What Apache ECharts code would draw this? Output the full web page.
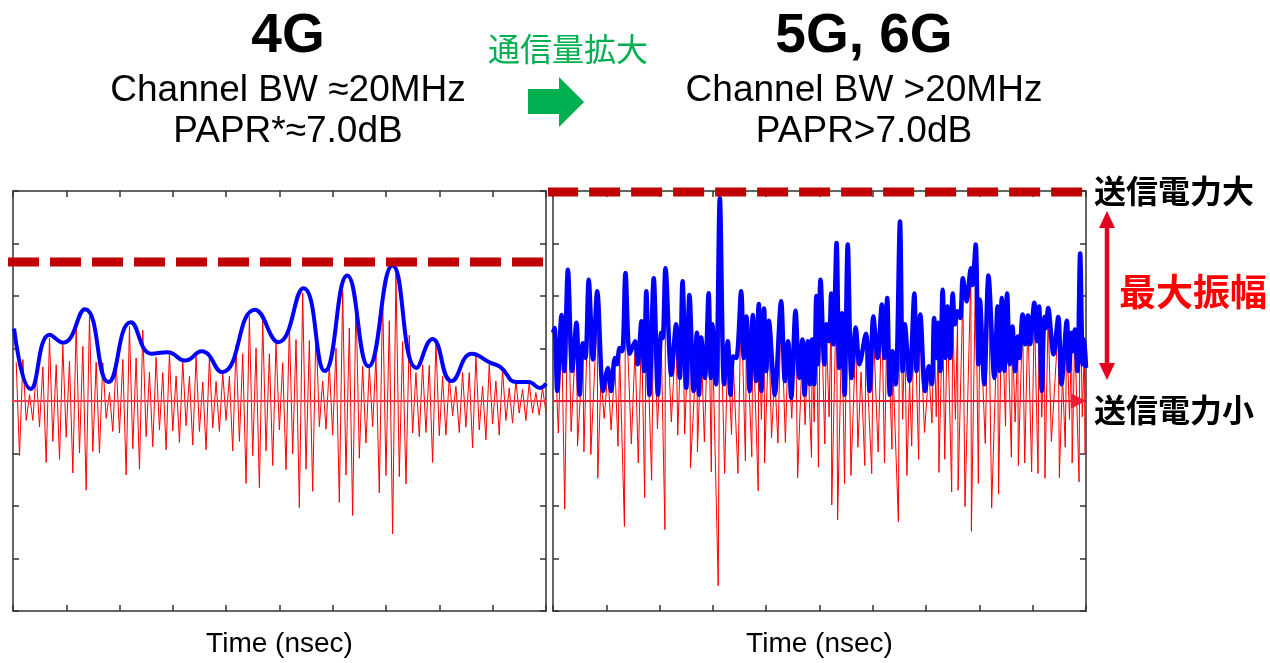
<!DOCTYPE html>
<html>
<head>
<meta charset="utf-8">
<script src="https://cdn.jsdelivr.net/npm/echarts@6/dist/echarts.min.js"></script>
<style>
html,body{margin:0;padding:0;background:#fff;}
#chart{width:1270px;height:663px;}
</style>
</head>
<body>
<div id="chart"></div>
<script>
// ---------- axis settings (data units) ----------
const X_MIN = 0, X_MAX = 10, X_INTERVAL = 1;
const Y_MIN = -4, Y_MAX = 4, Y_INTERVAL = 1;
const X_NAME = 'Time (nsec)';

// ---------- 4G panel (left) ----------
// red carrier: alternating positive peaks / troughs, uniformly sampled
const LEFT_T0 = 0.06, LEFT_DT = 0.0625;
const LEFT_POS = [
 0.74,0.79, 0.12,0.54, 0.65,1.20, 0.69,1.06, 0.76,1.45, 1.04,1.61, 0.74,0.73, 0.16,0.76, 0.79,1.42, 0.82,1.35,
 0.55,0.83, 0.54,0.90, 0.48,0.76, 0.47,0.85, 0.36,0.84, 0.37,0.54, 0.47,1.07, 0.90,1.61, 1.01,1.56, 0.90,1.11,
 0.73,1.44, 1.17,2.06, 1.15,1.45, 0.38,0.69, 1.01,2.10, 1.39,1.98, 0.66,0.64, 0.87,2.01, 1.53,2.42, 1.13,1.25,
 0.54,0.69, 0.68,1.12, 0.47,0.45, 0.28,0.54, 0.54,0.86, 0.28,0.69, 0.38,0.60, 0.25,0.38, 0.22,0.35, 0.16,0.25
];
const LEFT_NEG = [
 -1.04,-0.37, -0.37,-0.49, -1.17,-0.77, -1.11,-0.69, -1.37,-0.99, -1.70,-0.96, -0.99,-0.33, -0.58,-0.61, -1.41,-0.91, -1.30,-0.68,
 -0.87,-0.55, -0.93,-0.57, -0.79,-0.47, -0.84,-0.58, -0.93,-0.51, -0.58,-0.37, -0.95,-0.77, -1.57,-1.04, -1.65,-0.95, -1.23,-0.55,
 -1.31,-1.01, -2.03,-1.30, -1.72,-0.49, -0.54,-0.65, -1.93,-1.41, -2.18,-1.09, -0.80,-0.49, -1.75,-1.42, -2.53,-1.44, -1.58,-0.61,
 -0.68,-0.60, -1.17,-0.66, -0.65,-0.28, -0.60,-0.50, -0.89,-0.55, -0.74,-0.44, -0.65,-0.37, -0.42,-0.23, -0.37,-0.23, -0.27,-0.20
];
// blue envelope
const LEFT_ENV_T = [0.02,0.33,0.69,0.94,1.35,1.79,2.21,2.60,2.90,3.23,3.54,3.92,4.54,4.98,5.45,5.85,6.27,6.67,7.12,7.57,7.87,8.23,8.61,8.95,9.14,9.45,9.67,9.89,10.0];
const LEFT_ENV_V = [1.38,0.23,1.26,1.11,1.75,0.36,1.50,0.90,0.93,0.77,0.95,0.55,1.74,1.12,2.15,0.57,2.39,0.66,2.58,0.63,1.18,0.38,0.90,0.73,0.65,0.36,0.36,0.25,0.33];
const LEFT_PEAK_LINE = 2.65;

// ---------- 5G, 6G panel (right) ----------
const RIGHT_PEAK_T = [
 0.03,0.16,0.28,0.44,0.56,0.67,0.83,1.03,1.16,1.25,
 1.36,1.54,1.66,1.75,1.89,2.03,2.11,2.31,2.43,2.56,
 2.70,2.78,2.92,2.99,3.13,3.28,3.38,3.53,3.63,3.75,
 3.86,3.96,4.05,4.28,4.41,4.55,4.68,4.78,4.86,4.94,
 5.02,5.13,5.22,5.32,5.42,5.53,5.68,5.87,6.01,6.17,
 6.27,6.37,6.51,6.60,6.78,6.89,7.05,7.15,7.23,7.31,
 7.40,7.50,7.59,7.69,7.84,7.93,8.01,8.17,8.34,8.42,
 8.52,8.62,8.72,8.81,8.91,9.03,9.12,9.22,9.29,9.48,
 9.64,9.73,9.79,9.89,9.97
];
const RIGHT_PEAK_V = [
 1.39,1.64,2.50,1.49,1.10,2.31,2.09,0.63,0.82,1.01,
 2.44,1.14,1.52,2.09,2.34,1.30,2.53,1.46,2.28,2.02,
 1.30,1.21,2.05,1.46,3.86,1.14,0.85,2.09,1.61,1.64,
 1.85,1.76,1.53,1.90,1.14,1.72,1.17,1.14,1.17,2.00,
 2.31,1.46,2.05,3.01,1.67,2.98,1.40,1.28,1.61,1.84,
 1.96,0.95,3.42,1.46,2.05,1.65,0.66,1.58,1.49,2.12,
 1.80,2.05,1.71,2.34,2.53,2.98,1.93,2.39,1.80,1.96,
 2.05,1.42,1.23,1.65,1.63,1.87,1.80,1.60,1.77,1.60,
 1.53,1.30,1.36,2.81,1.17
];
const RIGHT_VALLEY_T = [
 0.00,0.08,0.21,0.36,0.50,0.61,0.75,0.94,1.09,1.20,1.30,
 1.44,1.59,1.71,1.81,1.97,2.06,2.22,2.38,2.50,2.64,
 2.74,2.85,2.96,3.06,3.21,3.33,3.44,3.58,3.69,3.81,
 3.91,4.00,4.16,4.35,4.47,4.62,4.72,4.82,4.90,4.97,
 5.09,5.18,5.26,5.37,5.47,5.60,5.75,5.94,6.09,6.22,
 6.32,6.43,6.56,6.69,6.82,6.98,7.11,7.20,7.27,7.36,
 7.45,7.54,7.64,7.76,7.87,7.98,8.09,8.28,8.38,8.47,
 8.57,8.67,8.75,8.86,8.95,9.08,9.17,9.25,9.39,9.54,
 9.68,9.76,9.84,9.94,10.0
];
const RIGHT_VALLEY_V = [
 1.30,0.19,0.57,0.57,0.12,0.82,0.79,0.19,0.19,0.70,0.95,
 0.90,0.70,0.57,0.12,0.12,1.20,0.50,0.44,0.25,0.19,
 0.12,0.44,0.44,0.32,0.32,0.12,0.82,0.82,0.19,0.38,
 0.19,0.57,0.12,0.38,0.06,0.44,0.12,0.32,0.32,0.70,
 0.70,1.14,1.08,0.63,0.12,0.44,0.70,0.19,0.82,0.82,
 0.12,0.32,0.57,0.38,0.57,0.19,0.32,0.82,0.57,0.82,
 0.82,1.46,1.58,1.90,2.21,0.70,0.32,0.44,0.57,0.57,
 0.70,0.57,0.82,1.08,1.08,1.14,0.19,1.39,0.89,0.32,
 0.57,0.95,0.57,0.70,0.63
];
// red carrier: positive peaks (at RIGHT_PEAK_T), troughs, and small in-between swings
const RIGHT_RED_POS = [
 1.26,1.42,2.34,1.42,0.95,2.25,1.72,0.55,0.70,0.92,
 2.10,1.01,1.40,1.90,1.85,1.15,2.35,1.35,2.05,1.80,
 1.12,1.10,1.95,1.30,2.34,1.05,0.78,1.98,1.50,1.45,
 1.70,1.60,1.35,1.82,1.02,1.55,1.05,1.00,1.08,1.85,
 2.20,1.30,1.80,2.20,1.50,2.90,1.22,1.10,1.40,1.70,
 1.85,0.85,3.08,1.30,1.98,1.40,0.60,1.45,1.20,1.70,
 1.62,1.65,1.55,2.05,2.42,2.60,1.70,2.30,1.62,1.88,
 1.85,1.25,1.10,1.55,1.58,1.75,1.70,1.20,1.65,1.45,
 1.40,1.20,1.25,2.35,1.05
];
const RIGHT_TROUGH_T = [
 0.10,0.22,0.34,0.46,0.58,0.71,0.84,0.96,1.09,1.22,
 1.34,1.47,1.60,1.72,1.85,1.96,2.10,2.22,2.34,2.47,
 2.58,2.71,2.84,2.97,3.10,3.22,3.35,3.47,3.61,3.73,
 3.85,3.97,4.10,4.22,4.36,4.48,4.59,4.73,4.85,4.98,
 5.10,5.23,5.34,5.47,5.59,5.72,5.85,5.98,6.10,6.22,
 6.36,6.48,6.64,6.73,6.86,6.97,7.11,7.24,7.35,7.48,
 7.60,7.73,7.85,7.98,8.11,8.23,8.36,8.49,8.60,8.73,
 8.85,8.98,9.10,9.23,9.35,9.50,9.61,9.74,9.87,9.98
];
const RIGHT_TROUGH_V = [
 -0.61,-2.06,-0.58,-0.86,-0.97,-1.02,-1.47,-0.33,-0.55,-0.86,
 -2.39,-0.82,-1.18,-1.84,-1.51,-0.53,-2.45,-0.40,-0.65,-0.63,
 -1.27,-0.97,-0.78,-1.35,-3.52,-1.38,-0.64,-1.38,-1.14,-1.06,
 -1.71,-1.18,-0.70,-0.80,-0.79,-0.33,-1.46,-0.45,-1.07,-1.26,
 -0.82,-1.98,-2.26,-1.57,-1.42,-0.88,-1.23,-1.38,-0.97,-1.18,
 -0.92,-2.30,-1.42,-0.86,-1.11,-0.60,-0.42,-1.36,-1.11,-1.73,
 -1.70,-2.01,-2.48,-1.57,-0.81,-2.04,-1.77,-0.48,-1.07,-1.23,
 -1.18,-1.35,-1.38,-1.47,-0.77,-1.46,-0.88,-1.18,-1.54,-0.99
];
const RIGHT_SWING_T = [0.90,3.91,4.16,4.82,4.90,5.18,5.78,6.56,6.69,7.19,7.55,8.67,9.17,9.56,9.69,9.93];
const RIGHT_SWING_V = [0.45,-0.35,0.50,-0.30,-0.40,-0.30,0.55,-0.35,0.40,-0.30,-0.35,-0.40,-0.30,0.50,-0.35,-0.30];
const RIGHT_PEAK_LINE = 3.98;

// ---------- build series data ----------
const leftRed = [];
LEFT_POS.forEach((v, k) => {
  leftRed.push([LEFT_T0 + 2 * k * LEFT_DT, v]);
  leftRed.push([LEFT_T0 + (2 * k + 1) * LEFT_DT, LEFT_NEG[k]]);
});
const leftEnv = LEFT_ENV_T.map((t, i) => [t, LEFT_ENV_V[i]]);

const pairs = (ts, vs) => ts.map((t, i) => [t, vs[i]]);
const rightEnv = pairs(RIGHT_PEAK_T, RIGHT_PEAK_V)
  .concat(pairs(RIGHT_VALLEY_T, RIGHT_VALLEY_V))
  .sort((a, b) => a[0] - b[0]);
const rightRed = pairs(RIGHT_PEAK_T, RIGHT_RED_POS)
  .concat(pairs(RIGHT_TROUGH_T, RIGHT_TROUGH_V))
  .concat(pairs(RIGHT_SWING_T, RIGHT_SWING_V))
  .sort((a, b) => a[0] - b[0]);

// ---------- chart ----------
const SANS = '"Liberation Sans", Arial, sans-serif';
const CJK = '"Noto Sans CJK JP", "Noto Sans CJK SC", sans-serif';
const AXIS_COLOR = '#333333';

function xAx(grid, pos, withName) {
  const a = {
    gridIndex: grid, type: 'value', min: X_MIN, max: X_MAX, interval: X_INTERVAL, position: pos,
    axisLine: { show: true, onZero: false, lineStyle: { color: AXIS_COLOR, width: 1.5 } },
    axisTick: { show: true, inside: true, length: 6, lineStyle: { color: AXIS_COLOR, width: 1.5 } },
    axisLabel: { show: false }, splitLine: { show: false }
  };
  if (withName) {
    a.name = X_NAME; a.nameLocation = 'middle'; a.nameGap = 19;
    a.nameTextStyle = { fontSize: 28, color: '#000', fontFamily: SANS };
  }
  return a;
}
function yAx(grid, pos) {
  return {
    gridIndex: grid, type: 'value', min: Y_MIN, max: Y_MAX, interval: Y_INTERVAL, position: pos,
    axisLine: { show: true, onZero: false, lineStyle: { color: AXIS_COLOR, width: 1.5 } },
    axisTick: { show: true, inside: true, length: 6, lineStyle: { color: AXIS_COLOR, width: 1.5 } },
    axisLabel: { show: false }, splitLine: { show: false }
  };
}

const chart = echarts.init(document.getElementById('chart'), null, { renderer: 'canvas' });
const option = {
  animation: false,
  backgroundColor: '#ffffff',
  grid: [
    { left: 13, top: 191, width: 533, height: 421 },
    { left: 553, top: 191, width: 533, height: 421 }
  ],
  xAxis: [xAx(0, 'bottom', true), xAx(0, 'top', false), xAx(1, 'bottom', true), xAx(1, 'top', false)],
  yAxis: [yAx(0, 'left'), yAx(0, 'right'), yAx(1, 'left'), yAx(1, 'right')],
  series: [
    // left panel
    { type: 'line', xAxisIndex: 0, yAxisIndex: 0, data: leftRed, symbol: 'none', silent: true,
      lineStyle: { color: '#ff0000', width: 1 }, z: 2 },
    { type: 'line', xAxisIndex: 0, yAxisIndex: 0, data: [[-0.094, 0], [10.13, 0]], symbol: 'none', silent: true, clip: false,
      lineStyle: { color: '#f0404f', width: 2 }, z: 3 },
    { type: 'line', xAxisIndex: 0, yAxisIndex: 0, data: leftEnv, symbol: 'none', silent: true, smooth: 0.5,
      lineStyle: { color: '#0000ff', width: 4 }, z: 4 },
    { type: 'line', xAxisIndex: 0, yAxisIndex: 0, data: [[-0.094, LEFT_PEAK_LINE], [10, LEFT_PEAK_LINE]], symbol: 'none', silent: true, clip: false,
      lineStyle: { color: '#c00000', width: 9, type: [31, 11] }, z: 5 },
    // right panel
    { type: 'line', xAxisIndex: 2, yAxisIndex: 2, data: rightRed, symbol: 'none', silent: true,
      lineStyle: { color: '#ff0000', width: 1 }, z: 2 },
    { type: 'line', xAxisIndex: 2, yAxisIndex: 2, data: rightEnv, symbol: 'none', silent: true, smooth: 0.3,
      lineStyle: { color: '#0000ff', width: 4.5, join: 'round' }, z: 4 },
    { type: 'line', xAxisIndex: 2, yAxisIndex: 2, data: [], symbol: 'none', silent: true,
      markLine: { silent: true, symbol: ['none', 'triangle'], symbolSize: 15, label: { show: false },
        lineStyle: { color: '#ee1c32', width: 2, type: 'solid' },
        data: [[{ coord: [0, 0] }, { coord: [9.86, 0] }]] }, z: 3 },
    { type: 'line', xAxisIndex: 2, yAxisIndex: 2, data: [[-0.11, RIGHT_PEAK_LINE], [10, RIGHT_PEAK_LINE]], symbol: 'none', silent: true, clip: false,
      lineStyle: { color: '#c00000', width: 9, type: [31, 11] }, z: 5 }
  ],
  graphic: [
    { type: 'text', silent: true, style: { text: '4G', x: 288, y: 37, font: 'bold 55px ' + SANS, fill: '#000', align: 'center', verticalAlign: 'middle' } },
    { type: 'text', silent: true, style: { text: 'Channel BW ≈20MHz', x: 288, y: 91, font: '37px ' + SANS, fill: '#000', align: 'center', verticalAlign: 'middle' } },
    { type: 'text', silent: true, style: { text: 'PAPR*≈7.0dB', x: 288, y: 132, font: '37px ' + SANS, fill: '#000', align: 'center', verticalAlign: 'middle' } },
    { type: 'text', silent: true, style: { text: '5G, 6G', x: 864, y: 37, font: 'bold 55px ' + SANS, fill: '#000', align: 'center', verticalAlign: 'middle' } },
    { type: 'text', silent: true, style: { text: 'Channel BW >20MHz', x: 864, y: 91, font: '37px ' + SANS, fill: '#000', align: 'center', verticalAlign: 'middle' } },
    { type: 'text', silent: true, style: { text: 'PAPR>7.0dB', x: 864, y: 132, font: '37px ' + SANS, fill: '#000', align: 'center', verticalAlign: 'middle' } },
    { type: 'text', silent: true, style: { text: '通信量拡大', x: 568, y: 49, font: '32px ' + CJK, fill: '#00b050', align: 'center', verticalAlign: 'middle' } },
    { type: 'polygon', silent: true, shape: { points: [[528, 89], [559, 89], [559, 77], [584, 102], [559, 127], [559, 114], [528, 114]] }, style: { fill: '#00b050' } },
    { type: 'text', silent: true, style: { text: '送信電力大', x: 1094, y: 191, font: 'bold 32px ' + CJK, fill: '#000', align: 'left', verticalAlign: 'middle' } },
    { type: 'text', silent: true, style: { text: '送信電力小', x: 1094, y: 410, font: 'bold 32px ' + CJK, fill: '#000', align: 'left', verticalAlign: 'middle' } },
    { type: 'text', silent: true, style: { text: '最大振幅', x: 1119, y: 292, font: 'bold 37px ' + CJK, fill: '#ff0000', align: 'left', verticalAlign: 'middle' } },
    { type: 'line', silent: true, shape: { x1: 1107, y1: 224, x2: 1107, y2: 367 }, style: { stroke: '#e60020', lineWidth: 4.5 } },
    { type: 'polygon', silent: true, shape: { points: [[1099, 228], [1107, 211], [1115, 228]] }, style: { fill: '#e60020' } },
    { type: 'polygon', silent: true, shape: { points: [[1099, 363], [1107, 380], [1115, 363]] }, style: { fill: '#e60020' } }
  ]
};
chart.setOption(option);
</script>
</body>
</html>
